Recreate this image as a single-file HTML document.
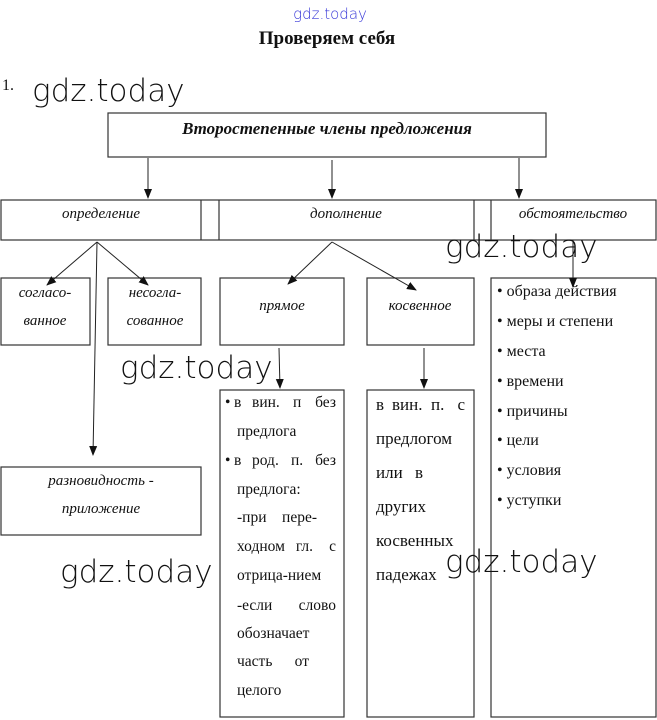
<!DOCTYPE html>
<html><head><meta charset="utf-8"><style>
html,body{margin:0;padding:0;background:#fff;}
svg{display:block;}
.s{font-family:"Liberation Serif","Noto Serif CJK SC",serif;fill:#111;}
.i{font-style:italic;}
.w{font-family:"DejaVu Sans","Liberation Sans",sans-serif;font-weight:200;fill:#111;}
</style></head><body>
<svg width="657" height="720" viewBox="0 0 657 720" xmlns="http://www.w3.org/2000/svg">
<defs><marker id="a" markerWidth="10" markerHeight="10" refX="9" refY="5" orient="auto" markerUnits="userSpaceOnUse"><path d="M0,1 L10,5 L0,9 z" fill="#111"/></marker></defs>
<g stroke="#333" stroke-width="1.2" fill="none">
<rect x="108" y="113" width="438" height="44"/>
<rect x="1" y="200" width="655" height="40"/>
<line x1="201" y1="200" x2="201" y2="240"/>
<line x1="219" y1="200" x2="219" y2="240"/>
<line x1="474" y1="200" x2="474" y2="240"/>
<line x1="491" y1="200" x2="491" y2="240"/>
<rect x="1" y="278" width="89" height="67"/>
<rect x="108" y="278" width="93" height="67"/>
<rect x="220" y="278" width="124" height="67"/>
<rect x="367" y="278" width="107" height="67"/>
<rect x="491" y="278" width="165" height="439"/>
<rect x="1" y="467" width="200" height="68"/>
<rect x="220" y="390" width="124" height="327"/>
<rect x="367" y="390" width="107" height="327"/>
</g>
<g stroke="#222" stroke-width="1" marker-end="url(#a)">
<line x1="148" y1="158" x2="148" y2="198"/>
<line x1="332" y1="160" x2="332" y2="198"/>
<line x1="519" y1="158" x2="519" y2="198"/>
<line x1="97" y1="242" x2="47" y2="285"/>
<line x1="97" y1="242" x2="148" y2="285"/>
<line x1="97" y1="242" x2="93" y2="455"/>
<line x1="332" y1="242" x2="288" y2="284"/>
<line x1="332" y1="242" x2="416" y2="290"/>
<line x1="279" y1="348" x2="280" y2="388"/>
<line x1="424" y1="348" x2="424" y2="388"/>
<line x1="573" y1="240" x2="573" y2="287"/>
</g>
<text x="330" y="19" text-anchor="middle" style="font-family:'DejaVu Sans',sans-serif;font-size:15px;fill:#3a3ad8;font-weight:200">gdz.today</text>
<text x="327" y="44" text-anchor="middle" class="s" style="font-weight:bold;font-size:19px">Проверяем себя</text>
<text x="2" y="90" class="s" style="font-size:16px">1.</text>
<text x="327" y="134" text-anchor="middle" class="s i" style="font-weight:bold;font-size:17px">Второстепенные члены предложения</text>
<g class="s i" style="font-size:15px" text-anchor="middle">
<text x="101" y="218">определение</text>
<text x="346" y="218">дополнение</text>
<text x="573" y="218">обстоятельство</text>
<text x="45" y="297">согласо-</text>
<text x="45" y="325">ванное</text>
<text x="155" y="297">несогла-</text>
<text x="155" y="325">сованное</text>
<text x="282" y="310">прямое</text>
<text x="420" y="310">косвенное</text>
<text x="101" y="485">разновидность -</text>
<text x="101" y="513">приложение</text>
</g>
<g class="s" style="font-size:15.5px">
<text x="225" y="407">•</text>
<text x="234" y="407">в</text><text x="252" y="407">вин.</text><text x="293" y="407">п</text><text x="336" y="407" text-anchor="end">без</text>
<text x="237" y="436">предлога</text>
<text x="225" y="465">•</text>
<text x="234" y="465">в</text><text x="252" y="465">род.</text><text x="291" y="465">п.</text><text x="336" y="465" text-anchor="end">без</text>
<text x="237" y="494">предлога:</text>
<text x="237" y="522">-при</text><text x="317" y="522" text-anchor="end">пере-</text>
<text x="237" y="551">ходном</text><text x="313" y="551" text-anchor="end">гл.</text><text x="336" y="551" text-anchor="end">с</text>
<text x="237" y="580">отрица-нием</text>
<text x="237" y="610">-если</text><text x="336" y="610" text-anchor="end">слово</text>
<text x="237" y="638">обозначает</text>
<text x="237" y="666">часть</text><text x="309" y="666" text-anchor="end">от</text>
<text x="237" y="695">целого</text>
</g>
<g class="s" style="font-size:17px">
<text x="376" y="410">в</text><text x="392" y="410">вин.</text><text x="431" y="410">п.</text><text x="465" y="410" text-anchor="end">с</text>
<text x="376" y="444">предлогом</text>
<text x="376" y="478">или</text><text x="423" y="478" text-anchor="end">в</text>
<text x="376" y="512">других</text>
<text x="376" y="546">косвенных</text>
<text x="376" y="580">падежах</text>
</g>
<g class="s" style="font-size:16px">
<text x="497" y="296">•  образа действия</text>
<text x="497" y="326">•  меры и степени</text>
<text x="497" y="356">•  места</text>
<text x="497" y="386">•  времени</text>
<text x="497" y="416">•  причины</text>
<text x="497" y="445">•  цели</text>
<text x="497" y="475">•  условия</text>
<text x="497" y="505">•  уступки</text>
</g>
<g class="w" style="font-size:31px">
<text x="32" y="101">gdz.today</text>
<text x="445" y="257">gdz.today</text>
<text x="120" y="378">gdz.today</text>
<text x="60" y="582">gdz.today</text>
<text x="445" y="572">gdz.today</text>
</g>
</svg>
</body></html>
